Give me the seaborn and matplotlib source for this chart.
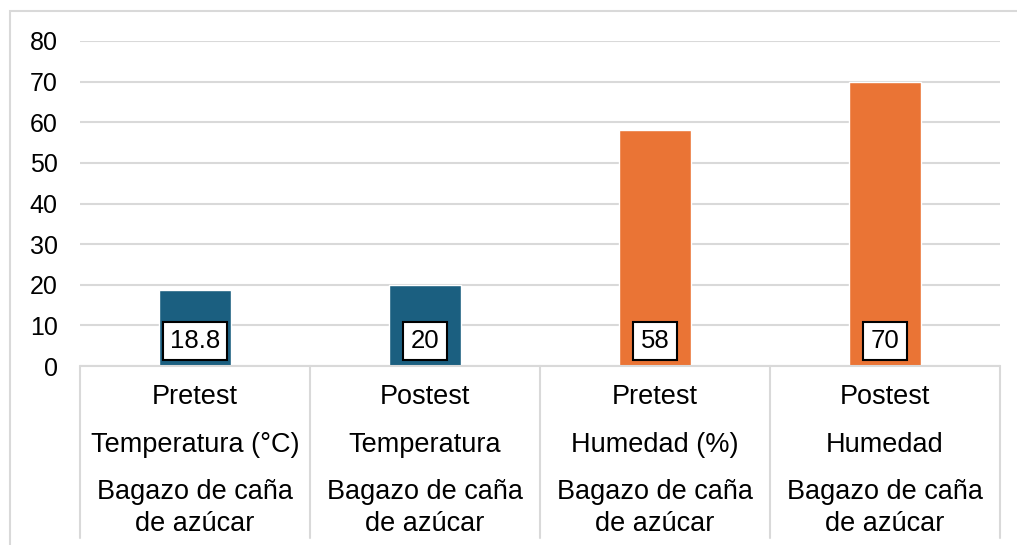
import matplotlib.pyplot as plt
import pandas as pd
import seaborn as sns
from matplotlib.patches import Rectangle

# data
fases = ['Pretest', 'Postest', 'Pretest', 'Postest']
variables = ['Temperatura (°C)', 'Temperatura', 'Humedad (%)', 'Humedad']
material = ['Bagazo de caña\nde azúcar'] * 4
valores = [18.8, 20, 58, 70]
etiquetas = ['18.8', '20', '58', '70']
colores = ['#1B5F80', '#1B5F80', '#EA7435', '#EA7435']

sns.set_theme(style='white')
plt.rcParams['font.family'] = ['Liberation Sans', 'DejaVu Sans']
plt.rcParams['text.color'] = 'black'

df = pd.DataFrame({'id': [str(i) for i in range(len(valores))], 'valor': valores})

fig = plt.figure(figsize=(10.17, 5.45), dpi=100)
ax = fig.add_axes([80 / 1017, 179 / 545, 920 / 1017, 325 / 545])

sns.barplot(data=df, x='id', y='valor', hue='id', palette=colores,
            width=0.31, legend=False, saturation=1, ax=ax)

ax.set_xlim(-0.5, 3.5)
ax.set_ylim(0, 80)
ax.set_yticks(range(0, 81, 10))
ax.yaxis.grid(True, color='#d9d9d9', linewidth=1.5)
ax.set_axisbelow(True)
for s in ax.spines.values():
    s.set_visible(False)
ax.tick_params(axis='y', length=0, pad=16, labelsize=18, labelcolor='black')
ax.set_xticks([])
ax.set_xlabel('')
ax.set_ylabel('')

# value labels in boxes near the base
for patch, txt in zip(ax.patches, etiquetas):
    cx = patch.get_x() + patch.get_width() / 2
    ax.text(cx, 6.2, txt, ha='center', va='center', fontsize=18.5, color='black',
            bbox=dict(boxstyle='square,pad=0.28', fc='white', ec='black', lw=1.5))

# multi-level category table below the axis
xt = ax.get_xaxis_transform()
ax.plot([-0.5, 3.5], [0, 0], color='#d9d9d9', lw=1.5, transform=xt, clip_on=False)
for xb in [-0.5, 0.5, 1.5, 2.5, 3.5]:
    ax.plot([xb, xb], [0, -0.53], color='#d9d9d9', lw=1.5, transform=xt, clip_on=False)
for i in range(len(valores)):
    ax.text(i, -0.095, fases[i], ha='center', va='center', fontsize=19.5,
            color='black', transform=xt)
    ax.text(i, -0.243, variables[i], ha='center', va='center', fontsize=19.5,
            color='black', transform=xt)
    ax.text(i, -0.437, material[i], ha='center', va='center', fontsize=19.5,
            color='black', linespacing=1.3, transform=xt)

# outer chart border (cut off at right and bottom)
fig.patches.append(Rectangle((10 / 1017, -0.05), 1.1, (534 / 545) + 0.05,
                             transform=fig.transFigure, fill=False,
                             ec='#d9d9d9', lw=1.5))

fig.savefig('out.png', dpi=100)
